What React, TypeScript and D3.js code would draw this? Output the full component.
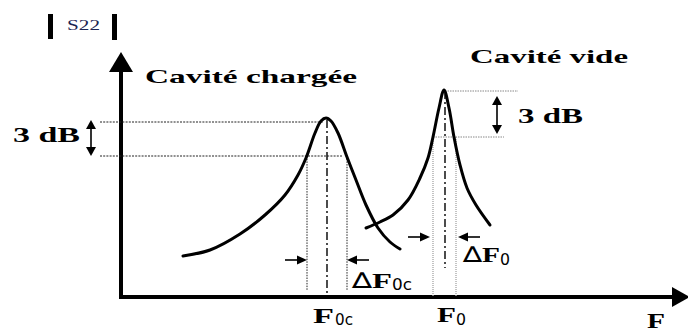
import * as d3 from 'd3';

// frequency units along F, level units along |S22| (arbitrary, schematic)
const chargeeCurve: [number, number][] = [
  [62, 41], [89, 47], [119, 63], [144, 82], [164, 102], [177, 122], [185, 139],
  [194, 164], [200, 176], [205, 179], [210, 176], [217, 164], [226, 140],
  [235, 117], [245, 92], [257, 69], [269, 55], [279, 48],
];

const videCurve: [number, number][] = [
  [245, 69], [259, 75], [272, 82], [287, 97], [299, 119], [307, 139], [312, 160],
  [318, 189], [323, 207], [328, 189], [333, 160], [339, 132], [346, 109],
  [355, 92], [369, 72],
];

// resonance markers: centre, peak, -3 dB level, band edges
const peakF0 = [206, 324];
const peakLevel = [177, 206];
const halfLevel = [141, 160];
const bandLow = [186, 312];
const bandHigh = [226, 335];

const width = 688;
const height = 331;

const serif = 'Liberation Serif, Times New Roman, serif';
const sans = 'DejaVu Sans, sans-serif';

export default function App() {
  const fx = d3.scaleLinear().domain([0, 567]).range([121, 688]);
  const fy = d3.scaleLinear().domain([0, 245]).range([297, 52]);

  const line = d3
    .line<[number, number]>()
    .x(d => fx(d[0]))
    .y(d => fy(d[1]))
    .curve(d3.curveCatmullRom.alpha(0.5));

  const x0 = fx(0);
  const y0 = fy(0);
  const yTop = fy(245);

  const c = 0; // cavité chargée
  const v = 1; // cavité vide

  const arrowH = (tipX: number, y: number, dir: number, len = 22) => (
    <g>
      <line x1={tipX - dir * len} y1={y} x2={tipX - dir * 8} y2={y} stroke="#000" strokeWidth={1.6} />
      <polygon
        points={`${tipX},${y} ${tipX - dir * 10},${y - 4.5} ${tipX - dir * 10},${y + 4.5}`}
        fill="#000"
      />
    </g>
  );

  const dblArrow = (x: number, yA: number, yB: number) => (
    <g>
      <line x1={x} y1={yA + 6} x2={x} y2={yB - 6} stroke="#000" strokeWidth={1.6} />
      <polygon points={`${x},${yA} ${x - 5},${yA + 9} ${x + 5},${yA + 9}`} fill="#000" />
      <polygon points={`${x},${yB} ${x - 5},${yB - 9} ${x + 5},${yB - 9}`} fill="#000" />
    </g>
  );

  return (
    <svg
      width={width}
      height={height}
      style={{ position: 'absolute', left: 0, top: 0, background: '#fff' }}
    >
      {/* |S22| label */}
      <rect x={48} y={14} width={5} height={25} fill="#000" />
      <rect x={112} y={14} width={5} height={26} fill="#000" />
      <text x={67} y={30} fontFamily={serif} fontSize={15} fill="#1c2452" textLength={33} lengthAdjust="spacingAndGlyphs">
        S22
      </text>

      {/* axes */}
      <line x1={x0} y1={y0} x2={x0} y2={yTop + 16} stroke="#000" strokeWidth={4} />
      <polygon points={`${x0},${yTop} ${x0 - 12},${yTop + 20} ${x0 + 12},${yTop + 20}`} fill="#000" />
      <line x1={x0 - 2} y1={y0} x2={width - 14} y2={y0} stroke="#000" strokeWidth={4} />
      <polygon points={`${width + 2},${y0} ${width - 16},${y0 - 10} ${width - 16},${y0 + 10}`} fill="#000" />

      {/* chargée guides */}
      <line x1={100} y1={fy(peakLevel[c]) + 2} x2={fx(peakF0[c]) - 4} y2={fy(peakLevel[c]) + 2}
        stroke="#222" strokeWidth={1} strokeDasharray="2,1.2" />
      <line x1={100} y1={fy(halfLevel[c])} x2={fx(bandHigh[c]) - 4} y2={fy(halfLevel[c])}
        stroke="#222" strokeWidth={1} strokeDasharray="2,1.2" />
      <line x1={fx(bandLow[c])} y1={fy(halfLevel[c])} x2={fx(bandLow[c])} y2={y0 - 6}
        stroke="#222" strokeWidth={1} strokeDasharray="1.5,1.2" />
      <line x1={fx(bandHigh[c])} y1={fy(halfLevel[c])} x2={fx(bandHigh[c])} y2={y0 - 6}
        stroke="#222" strokeWidth={1} strokeDasharray="1.5,1.2" />
      <line x1={fx(peakF0[c])} y1={fy(peakLevel[c])} x2={fx(peakF0[c])} y2={y0}
        stroke="#000" strokeWidth={1.4} strokeDasharray="8,3,2,3" />

      {/* vide guides */}
      <line x1={fx(peakF0[v])} y1={fy(peakLevel[v])} x2={518} y2={fy(peakLevel[v])}
        stroke="#888" strokeWidth={1} strokeDasharray="1.5,1" />
      <line x1={fx(bandLow[v])} y1={fy(halfLevel[v])} x2={504} y2={fy(halfLevel[v])}
        stroke="#888" strokeWidth={1} strokeDasharray="1.5,1" />
      <line x1={fx(bandLow[v])} y1={fy(halfLevel[v])} x2={fx(bandLow[v])} y2={y0}
        stroke="#aaa" strokeWidth={1.4} strokeDasharray="1,1" />
      <line x1={fx(bandHigh[v])} y1={fy(halfLevel[v])} x2={fx(bandHigh[v])} y2={y0}
        stroke="#aaa" strokeWidth={1.4} strokeDasharray="1,1" />
      <line x1={fx(peakF0[v])} y1={fy(peakLevel[v])} x2={fx(peakF0[v])} y2={268}
        stroke="#000" strokeWidth={1.4} strokeDasharray="8,3,2,3" />

      {/* resonance curves */}
      <path d={line(chargeeCurve) || ''} fill="none" stroke="#000" strokeWidth={3} strokeLinecap="round" />
      <path d={line(videCurve) || ''} fill="none" stroke="#000" strokeWidth={3} strokeLinecap="round" />

      {/* 3 dB markers */}
      {dblArrow(91, fy(peakLevel[c]), fy(halfLevel[c]))}
      <text x={13} y={142} fontFamily={serif} fontWeight="bold" fontSize={20} textLength={67} lengthAdjust="spacingAndGlyphs">
        3 dB
      </text>
      {dblArrow(497, fy(peakLevel[v]) + 5, fy(halfLevel[v]) - 3)}
      <text x={518} y={123} fontFamily={serif} fontWeight="bold" fontSize={20} textLength={65} lengthAdjust="spacingAndGlyphs">
        3 dB
      </text>

      {/* bandwidth arrows */}
      {arrowH(fx(bandLow[c]), 260, 1)}
      {arrowH(fx(bandHigh[c]), 260, -1)}
      {arrowH(fx(bandLow[v]) - 3, 237, 1)}
      {arrowH(fx(bandHigh[v]) + 2, 237, -1)}

      {/* titles */}
      <text x={145} y={83} fontFamily={serif} fontWeight="bold" fontSize={19} textLength={212} lengthAdjust="spacingAndGlyphs">
        Cavité chargée
      </text>
      <text x={470} y={63} fontFamily={serif} fontWeight="bold" fontSize={19} textLength={158} lengthAdjust="spacingAndGlyphs">
        Cavité vide
      </text>

      {/* ΔF0c */}
      <text x={352} y={288} fontFamily={sans} fontSize={22} textLength={20} lengthAdjust="spacingAndGlyphs">∆</text>
      <text x={372} y={288} fontFamily={serif} fontWeight="bold" fontSize={22} textLength={20} lengthAdjust="spacingAndGlyphs">F</text>
      <text x={392} y={290} fontFamily={sans} fontSize={15} textLength={20} lengthAdjust="spacingAndGlyphs">0c</text>

      {/* ΔF0 */}
      <text x={463} y={262} fontFamily={sans} fontSize={22} textLength={19} lengthAdjust="spacingAndGlyphs">∆</text>
      <text x={482} y={262} fontFamily={serif} fontWeight="bold" fontSize={22} textLength={18} lengthAdjust="spacingAndGlyphs">F</text>
      <text x={500} y={265} fontFamily={sans} fontSize={15} textLength={10} lengthAdjust="spacingAndGlyphs">0</text>

      {/* axis frequency labels */}
      <text x={fx(peakF0[c]) - 14} y={323} fontFamily={serif} fontWeight="bold" fontSize={22} textLength={21} lengthAdjust="spacingAndGlyphs">F</text>
      <text x={fx(peakF0[c]) + 8} y={325} fontFamily={sans} fontSize={15} textLength={18} lengthAdjust="spacingAndGlyphs">0c</text>
      <text x={fx(peakF0[v]) - 8} y={322} fontFamily={serif} fontWeight="bold" fontSize={22} textLength={19} lengthAdjust="spacingAndGlyphs">F</text>
      <text x={fx(peakF0[v]) + 11} y={325} fontFamily={sans} fontSize={15} textLength={10} lengthAdjust="spacingAndGlyphs">0</text>

      <text x={647} y={328} fontFamily={serif} fontWeight="bold" fontSize={20} textLength={18} lengthAdjust="spacingAndGlyphs">F</text>
    </svg>
  );
}
